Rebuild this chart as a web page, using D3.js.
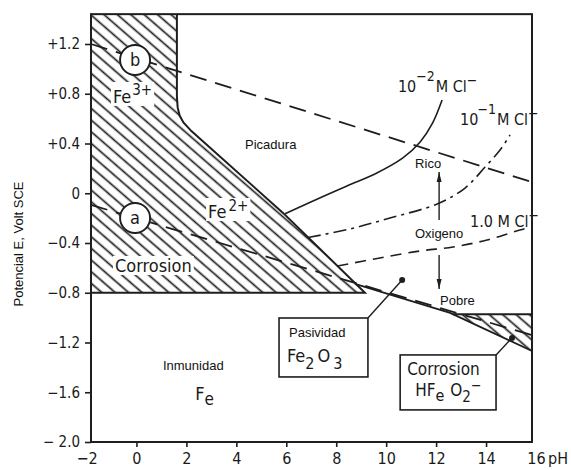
<!DOCTYPE html>
<html><head><meta charset="utf-8">
<script src="https://cdn.jsdelivr.net/npm/d3@7"></script>
<style>
body{margin:0;background:#fff}
.tech{font-family:"DejaVu Sans Condensed","DejaVu Sans",sans-serif;font-stretch:condensed;fill:#1a1a1a}
.sans{font-family:"Liberation Sans",Arial,sans-serif;fill:#111}
</style></head><body>
<svg id="chart" width="571" height="470"></svg>
<script>
// ---- data ----
const xTicks = [-2,0,2,4,6,8,10,12,14,16];
const xTickLabels = ["−2","0","2","4","6","8","10","12","14","16"];
const yTicks = [1.2,0.8,0.4,0,-0.4,-0.8,-1.2,-1.6,-2.0];
const yTickLabels = ["+1.2","+0.8","+0.4","0","−0.4","−0.8","−1.2","−1.6","− 2.0"];
const framePH = [-1.82, 15.84];
const frameE = [-2.0, 1.44];
const corrosionZone = [[-1.82,1.44],[1.62,1.44],[1.62,0.78],[1.65,0.69],[1.73,0.625],[1.88,0.57],[2.2,0.50],[5.87,-0.158],[9.15,-0.80],[-1.82,-0.80]];
const corrosionBoundary = [[1.62,1.44],[1.62,0.78],[1.65,0.69],[1.73,0.625],[1.88,0.57],[2.2,0.50],[5.87,-0.158],[9.15,-0.80],[-1.82,-0.80]];
const hfeo2Zone = [[12.68,-0.973],[15.84,-0.973],[15.84,-1.268]];
const hfeo2Top = [[12.68,-0.973],[15.84,-0.973]];
const lineB = [[-1.82,1.2],[15.84,0.09]];
const lineA = [[-1.82,-0.094],[15.84,-1.141]];
const ironLine = [[8.75,-0.729],[12.56,-0.962],[15.84,-1.268]];
const cl001 = [[5.95,-0.165],[7.07,-0.062],[8.43,0.059],[9.55,0.155],[10.67,0.284],[11.36,0.412],[11.84,0.557],[12.24,0.75]];
const cl01 = [[6.87,-0.356],[8.55,-0.287],[10.15,-0.199],[12.04,-0.086],[13.16,0.042],[13.96,0.211],[14.56,0.348],[14.96,0.468]];
const cl1 = [[8.05,-0.585],[9.75,-0.52],[11.36,-0.464],[12.68,-0.432],[14.04,-0.376],[15.36,-0.295],[15.84,-0.271]];
const circleLabels = [{t:"b",pH:-0.055,E:1.071},{t:"a",pH:-0.055,E:-0.199}];
const arrowUp = [[12.12,-0.215],[12.12,0.171]];
const arrowDown = [[12.12,-0.496],[12.12,-0.77]];
const dotLeaders = [[[10.64,-0.697],[9.27,-1.003]],[[15.04,-1.163],[14.4,-1.3]]];
const boxes = [[5.71,-1.003,9.27,-1.477],[10.56,-1.3,14.4,-1.742]];

// ---- scales ----
const svg = d3.select("#chart");
const x = d3.scaleLinear().domain([-2,16]).range([86.5,536]);
const y = d3.scaleLinear().domain([-2,1.2]).range([442,44]);
const line = d3.line().x(d=>x(d[0])).y(d=>y(d[1]));
const smooth = d3.line().x(d=>x(d[0])).y(d=>y(d[1])).curve(d3.curveCatmullRom);
const INK = "#1e1e1e";

svg.append("rect").attr("width",571).attr("height",470).attr("fill","#fff");
const defs = svg.append("defs");
const pat = defs.append("pattern").attr("id","hatch").attr("patternUnits","userSpaceOnUse")
  .attr("width",10).attr("height",8.8).attr("patternTransform","rotate(41)");
pat.append("line").attr("x1",-1).attr("x2",11).attr("y1",4.4).attr("y2",4.4).attr("stroke",INK).attr("stroke-width",1.7);

// zones
svg.append("path").attr("d",line(corrosionZone)+"Z").attr("fill","url(#hatch)");
svg.append("path").attr("d",line(hfeo2Zone)+"Z").attr("fill","url(#hatch)");

// boundaries
svg.append("path").attr("d",line(corrosionBoundary)).attr("fill","none").attr("stroke",INK).attr("stroke-width",2);
svg.append("path").attr("d",line(hfeo2Top)).attr("fill","none").attr("stroke",INK).attr("stroke-width",2);
svg.append("path").attr("d",line(ironLine)).attr("fill","none").attr("stroke",INK).attr("stroke-width",1.8);

// dashed lines a, b
svg.append("path").attr("d",line(lineB)).attr("fill","none").attr("stroke",INK).attr("stroke-width",1.8).attr("stroke-dasharray","17,9");
svg.append("path").attr("d",line(lineA)).attr("fill","none").attr("stroke",INK).attr("stroke-width",1.8).attr("stroke-dasharray","17,9");

// chloride curves
svg.append("path").attr("d",smooth(cl001)).attr("fill","none").attr("stroke",INK).attr("stroke-width",1.6);
svg.append("path").attr("d",smooth(cl01)).attr("fill","none").attr("stroke",INK).attr("stroke-width",1.6).attr("stroke-dasharray","13,5,3,5");
svg.append("path").attr("d",smooth(cl1)).attr("fill","none").attr("stroke",INK).attr("stroke-width",1.6).attr("stroke-dasharray","11,7");

// circles
circleLabels.forEach(c=>{
  svg.append("circle").attr("cx",x(c.pH)).attr("cy",y(c.E)).attr("r",15).attr("fill","#fff").attr("stroke",INK).attr("stroke-width",1.9);
  svg.append("text").attr("class","tech").attr("x",x(c.pH)).attr("y",y(c.E)+6).attr("text-anchor","middle").attr("font-size",18).text(c.t);
});

// arrows
defs.append("marker").attr("id","ah").attr("viewBox","0 0 10 10").attr("refX",10).attr("refY",5)
  .attr("markerWidth",10).attr("markerHeight",10).attr("markerUnits","userSpaceOnUse").attr("orient","auto")
  .append("path").attr("d","M0,2.5L10,5L0,7.5Z").attr("fill",INK);
[arrowUp,arrowDown].forEach(a=>{
  svg.append("path").attr("d",line(a)).attr("stroke",INK).attr("stroke-width",1.4).attr("fill","none").attr("marker-end","url(#ah)");
});

// leaders + dots
dotLeaders.forEach(l=>{
  svg.append("path").attr("d",line(l)).attr("stroke",INK).attr("stroke-width",1.4).attr("fill","none");
  svg.append("circle").attr("cx",x(l[0][0])).attr("cy",y(l[0][1])).attr("r",3).attr("fill",INK);
});
boxes.forEach(b=>{
  svg.append("rect").attr("x",x(b[0])).attr("y",y(b[1])).attr("width",x(b[2])-x(b[0])).attr("height",y(b[3])-y(b[1]))
    .attr("fill","#fff").attr("stroke",INK).attr("stroke-width",1.6);
});

// rich text helper
function rich(pH,E,parts,cls,size,knock,anchor){
  const t = svg.append("text").attr("class",cls).attr("x",x(pH)).attr("y",y(E)).attr("font-size",size)
    .attr("text-anchor",anchor||"start");
  parts.forEach(p=>{
    const s = t.append("tspan").text(p[0]);
    if(p[1]) s.attr("dy",p[1]);
    if(p[2]) s.attr("font-size",p[2]);
    if(p[3]) s.attr("dx",p[3]);
  });
  if(knock){
    const b = t.node().getBBox();
    svg.insert("rect","text").attr("x",b.x-2).attr("y",b.y+1).attr("width",b.width+4).attr("height",b.height-2).attr("fill","#fff");
    t.raise();
  }
  return t;
}
rich(-0.94,0.726,[["Fe"],["3+",-8,15,1]],"tech",18,true);
rich(2.87,-0.199,[["Fe"],["2+",-7,15,2]],"tech",18,true);
rich(-0.86,-0.633,[["Corrosion"]],"tech",18,true);
rich(4.35,0.356,[["Picadura"]],"sans",13,false);
rich(10.47,0.814,[["10"],["−2",-11,14],["M Cl",11,null,1],["−",-7,14]],"tech",16,false);
rich(12.96,0.549,[["10"],["−1",-11,14,-1],["M Cl",11,null,1],["−",-7,14]],"tech",16,false);
rich(13.36,-0.271,[["1.0 M Cl"],["−",-7,14]],"tech",16,false);
rich(11.68,0.203,[["Rico"]],"sans",13,false,"middle");
rich(12.12,-0.36,[["Oxigeno"]],"sans",13,true,"middle");
rich(12.16,-0.898,[["Pobre"]],"sans",13,false);
rich(1.06,-1.42,[["Inmunidad"]],"sans",13,false);
rich(2.35,-1.66,[["F"],["e",5,17]],"tech",18,false);
rich(6.11,-1.155,[["Pasividad"]],"sans",13,false);
rich(6.03,-1.356,[["Fe"],["2",7,16],["O",-7,18,3],["3",7,16,3]],"tech",18,false);
rich(10.84,-1.462,[["Corrosion"]],"tech",17,false);
rich(11.16,-1.632,[["HF"],["e",5,16],["O",-5,17,6],["2",6,15],["−",-12,14]],"tech",17,false);

// frame
svg.append("rect").attr("x",x(framePH[0])).attr("y",y(frameE[1])).attr("width",x(framePH[1])-x(framePH[0]))
  .attr("height",y(frameE[0])-y(frameE[1])).attr("fill","none").attr("stroke",INK).attr("stroke-width",2);

// axes
const gx = svg.append("g").attr("transform",`translate(0,${y(frameE[0])})`)
  .call(d3.axisBottom(x).tickValues(xTicks).tickFormat((d,i)=>xTickLabels[i]).tickSize(5).tickPadding(6));
gx.select(".domain").remove();
gx.selectAll(".tick line").attr("stroke",INK).attr("stroke-width",1.6).filter(d=>d===-2||d===16).remove();
gx.selectAll(".tick text").attr("class","tech").attr("font-size",16).attr("font-family",null);
svg.append("text").attr("class","tech").attr("x",x(16)+12).attr("y",y(frameE[0])+22.4).attr("font-size",16).text("pH");

const gy = svg.append("g").attr("transform",`translate(${x(framePH[0])},0)`)
  .call(d3.axisLeft(y).tickValues(yTicks).tickFormat((d,i)=>yTickLabels[i]).tickSize(6).tickPadding(5));
gy.select(".domain").remove();
gy.selectAll(".tick line").attr("stroke",INK).attr("stroke-width",1.6);
gy.selectAll(".tick text").attr("class","tech").attr("font-size",15).attr("font-family",null);

svg.append("text").attr("class","sans").attr("transform",`translate(23,244) rotate(-90)`).attr("text-anchor","middle")
  .attr("font-size",13).text("Potencial E, Volt SCE");
</script>
</body></html>
